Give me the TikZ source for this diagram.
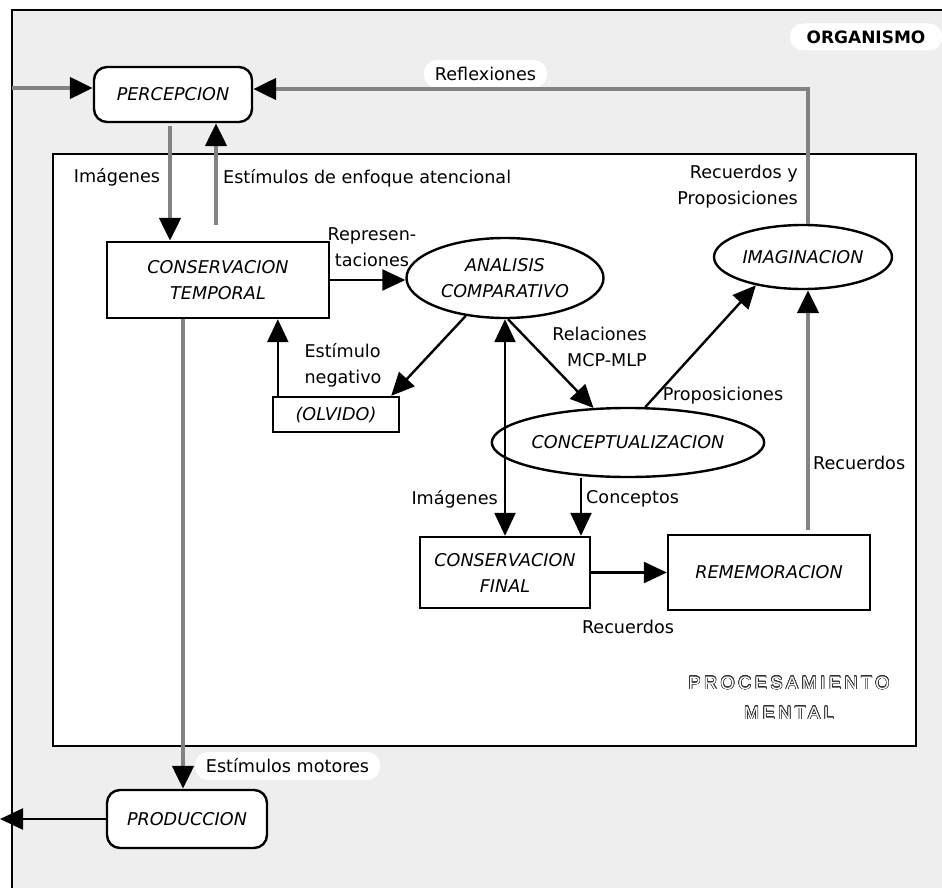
\documentclass[tikz,border=0pt]{standalone}
\usepackage{fontspec}
\setmainfont{DejaVu Sans}
\newfontfamily\hollowfont[LetterSpace=20]{Liberation Sans}
\usepackage{xcolor}
\usepackage{contour}
\usepackage{tikz}
\usetikzlibrary{arrows.meta,positioning,shapes.geometric}
\definecolor{paper}{HTML}{EEEEEE}
\definecolor{flowgray}{HTML}{828282}
\contourlength{0.55pt}
\contournumber{24}
\newcommand{\hollowtext}[1]{\contour{black!80}{\textcolor{white}{#1}}}
\tikzset{%
	process/.style   = {draw, rectangle, line width=2.4pt, fill=white, align=center, font=\fontsize{17.6}{26}\selectfont\itshape},
	startstop/.style = {process, rounded corners=13pt}, % Percepcion, Produccion
	thought/.style   = {process, ellipse, inner sep=0pt}, % Analisis etc.
	frame/.style     = {line width=2.2pt},
	lbl/.style       = {inner sep=0pt, align=center, font=\fontsize{17.6}{26}\selectfont},
	tag/.style       = {lbl, fill=white, rounded corners=13pt}, % white pill labels
	waypoint/.style  = {coordinate},
	arrow/.style     = {line width=2.4pt, -{Triangle[length=23pt,width=21pt]}},
	twoway/.style    = {line width=2.4pt, {Triangle[length=23pt,width=21pt]}-{Triangle[length=23pt,width=21pt]}},
	flow/.style      = {line width=4.6pt, flowgray, -{Triangle[length=23pt,width=21pt,color=black]}},
}
\begin{document}
\begin{tikzpicture}[x=1pt,y=1pt,node distance=264pt]
	\useasboundingbox (0,0) rectangle (942,-888);
	% organismo
	\fill[paper] (12,-10) rectangle (942,-888);
	\draw[frame] (12,-888) -- (12,-10) -- (942,-10);
	% procesamiento mental
	\draw[frame,fill=white] (53,-154) rectangle (916,-746);
	\node [tag,minimum width=152pt,minimum height=27pt,font=\fontsize{17}{20}\selectfont\bfseries] (org) at (866,-37) {ORGANISMO};
	\node [lbl,font=\fontsize{18}{30}\selectfont\hollowfont] (pm) at (789,-698) {\hollowtext{PROCESAMIENTO}\\\hollowtext{MENTAL}};
	
	\node [startstop,minimum width=158pt,minimum height=55pt] (perc) at (173,-94.5) {PERCEPCION};
	\node [process,minimum width=222pt,minimum height=76pt] (ct) at (218,-280) {CONSERVACION\\TEMPORAL};
	\node [thought,minimum width=197pt,minimum height=80pt] (ac) at (505,-278) {ANALISIS\\COMPARATIVO};
	\node [process,minimum width=126pt,minimum height=35pt] (olv) at (336,-414.5) {(OLVIDO)};
	\node [thought,minimum width=230pt,minimum height=69pt] (conc) at (628,-442.5) {CONCEPTUALIZACION};
	\node [process,minimum width=170pt,minimum height=71pt] (cf) [below of=ac,node distance=294.5pt] {CONSERVACION\\FINAL};
	\node [process,minimum width=202pt,minimum height=75pt] (rem) [right of=cf] {REMEMORACION};
	\node [thought,minimum width=178pt,minimum height=64pt] (ima) at (803,-257) {IMAGINACION};
	\node [startstop,minimum width=160pt,minimum height=58pt] (prod) at (187,-819) {PRODUCCION};
	
	\node [tag,minimum width=123pt,minimum height=28pt] (refl) at (485.5,-74) {Reflexiones};
	\node [tag,minimum width=185pt,minimum height=28pt] (motor) at (287.5,-766) {Estímulos motores};
	
	\node [waypoint] (inlet) at (12,-88) {};
	\node [waypoint] (outlet) at (0,-818) {};
	\node [waypoint] (bend) at (808,-89) {};
	
	\draw[flow] (inlet) -- (inlet -| perc.west);
	\draw[flow] (ima.north -| bend) -- (bend) -- (bend -| perc.east);
	\draw[flow] ([xshift=-3pt,yshift=-3pt]perc.south) -- ([xshift=-3pt]perc.south |- ct.north);
	\draw[flow] ([xshift=43pt,yshift=16pt]perc.south |- ct.north) -- ([xshift=43pt]perc.south);
	\draw[arrow] (ct.east) -- (ct.east -| ac.west);
	\draw[arrow] (ac.224) -- ([xshift=-9pt]olv.north east);
	\draw[arrow] ([xshift=6pt]olv.north west) -- ([xshift=6pt]olv.north west |- ct.south);
	\draw[twoway] (ac.south) -- (cf.north);
	\draw[arrow] ([xshift=3pt]ac.south) -- (conc.135);
	\draw[arrow] (conc.64) -- (ima.-149);
	\draw[arrow] ([xshift=-47pt]conc.south) -- ([xshift=-47pt]conc.south |- cf.north);
	\draw[arrow] (cf.east) -- (cf.east -| rem.west);
	\draw[flow] ([xshift=39pt,yshift=4pt]rem.north) -- ([xshift=39pt]rem.north |- ima.south);
	\draw[flow] ([xshift=-35pt]ct.south) -- ([xshift=-35pt]ct.south |- prod.north);
	\draw[arrow] (prod.west) -- (prod.west -| outlet);
	
	\node [lbl] (l1) at (117,-177) {Imágenes};
	\node [lbl,anchor=west] (l2) at (223,-178) {Estímulos de enfoque atencional};
	\node [lbl,align=right,anchor=east] (l3) at (798,-187) {Recuerdos y\\Proposiciones};
	\node [lbl] (l4) at (372,-247) {Represen-\\taciones};
	\node [lbl,align=left] (l5) at (343,-365) {Estímulo\\negativo};
	\node [lbl,align=right,anchor=east] (l6) at (647,-347) {Relaciones\hspace{15pt}\\MCP-MLP};
	\node [lbl] (l7) at (723,-396) {Proposiciones};
	\node [lbl,anchor=west] (l8) at (586,-499) {Conceptos};
	\node [lbl,anchor=east] (l9) at (498,-499) {Imágenes};
	\node [lbl] (l10) at (628,-627) {Recuerdos};
	\node [lbl,anchor=west] (l11) at (813,-463) {Recuerdos};
\end{tikzpicture}
\end{document}
